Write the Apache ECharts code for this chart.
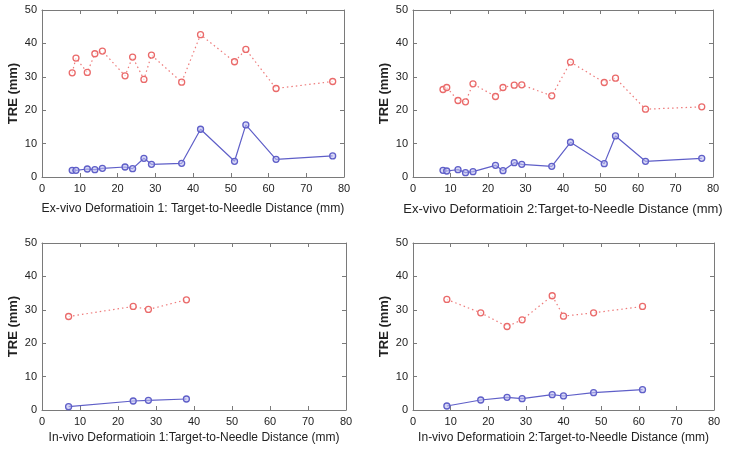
<!DOCTYPE html>
<html>
<head>
<meta charset="utf-8">
<script src="https://cdn.jsdelivr.net/npm/echarts@6/dist/echarts.min.js"></script>
<style>html,body{margin:0;padding:0;background:#fff}#c{width:729px;height:450px}</style>
</head>
<body>
<div id="c"></div>
<script>
// ---- data ----
var xTicks = [0, 10, 20, 30, 40, 50, 60, 70, 80];
var yTicks = [0, 10, 20, 30, 40, 50];

var ex1X = [8, 9, 12, 14, 16, 22, 24, 27, 29, 37, 42, 51, 54, 62, 77];
var ex1Red = [31.2, 35.6, 31.3, 36.9, 37.7, 30.3, 35.9, 29.2, 36.5, 28.4, 42.6, 34.5, 38.2, 26.5, 28.6];
var ex1Blue = [2.0, 2.0, 2.4, 2.2, 2.6, 3.0, 2.5, 5.6, 3.8, 4.1, 14.3, 4.7, 15.6, 5.3, 6.3];

var ex2X = [8, 9, 12, 14, 16, 22, 24, 27, 29, 37, 42, 51, 54, 62, 77];
var ex2Red = [26.2, 26.8, 22.9, 22.5, 27.9, 24.1, 26.8, 27.5, 27.6, 24.3, 34.4, 28.3, 29.6, 20.3, 21.0];
var ex2Blue = [2.0, 1.8, 2.2, 1.3, 1.6, 3.5, 1.9, 4.3, 3.8, 3.2, 10.4, 4.0, 12.3, 4.7, 5.6];

var in1X = [7, 24, 28, 38];
var in1Red = [28.0, 31.0, 30.1, 33.0];
var in1Blue = [1.0, 2.7, 2.9, 3.3];

var in2X = [9, 18, 25, 29, 37, 40, 48, 61];
var in2Red = [33.1, 29.1, 25.0, 27.0, 34.2, 28.1, 29.1, 31.0];
var in2Blue = [1.2, 3.0, 3.8, 3.4, 4.6, 4.2, 5.2, 6.1];

var panelTitles = [
  'Ex-vivo Deformatioin 1: Target-to-Needle Distance (mm)',
  'Ex-vivo Deformatioin 2:Target-to-Needle Distance (mm)',
  'In-vivo Deformatioin 1:Target-to-Needle Distance (mm)',
  'In-vivo Deformatioin 2:Target-to-Needle Distance (mm)'
];
var yName = 'TRE (mm)';

// ---- chart ----
var panels = [
  {x: ex1X, r: ex1Red, b: ex1Blue},
  {x: ex2X, r: ex2Red, b: ex2Blue},
  {x: in1X, r: in1Red, b: in1Blue},
  {x: in2X, r: in2Red, b: in2Blue}
];
var grids = [
  {left: 42, top: 10, width: 302, height: 167, nameGap: 26, nameSize: 12.2},
  {left: 413, top: 10, width: 300, height: 167, nameGap: 26, nameSize: 13},
  {left: 42, top: 243, width: 304, height: 167, nameGap: 22, nameSize: 12},
  {left: 413, top: 243, width: 301, height: 167, nameGap: 22, nameSize: 12}
];
var FONT = 'Liberation Sans, Arial, sans-serif';
var axisCol = '#7a7a7a';
var xMin = xTicks[0], xMax = xTicks[xTicks.length - 1], xInt = xTicks[1] - xTicks[0];
var yMin = yTicks[0], yMax = yTicks[yTicks.length - 1], yInt = yTicks[1] - yTicks[0];

var option = {animation: false, backgroundColor: '#fff', grid: [], xAxis: [], yAxis: [], series: []};
grids.forEach(function (g, i) {
  option.grid.push({left: g.left, top: g.top, width: g.width, height: g.height, show: false});
  var common = {
    gridIndex: i, type: 'value', splitLine: {show: false},
    axisLine: {show: true, onZero: false, lineStyle: {color: axisCol, width: 1}},
    axisTick: {show: true, inside: true, length: 4, lineStyle: {color: axisCol}}
  };
  option.xAxis.push(Object.assign({}, common, {
    position: 'bottom', min: xMin, max: xMax, interval: xInt,
    name: panelTitles[i], nameLocation: 'middle', nameGap: g.nameGap,
    nameTextStyle: {color: '#222', fontSize: g.nameSize, fontFamily: FONT},
    axisLabel: {color: '#222', fontSize: 11, margin: 6, fontFamily: FONT}
  }));
  option.xAxis.push(Object.assign({}, common, {
    position: 'top', min: xMin, max: xMax, interval: xInt, axisLabel: {show: false}
  }));
  option.yAxis.push(Object.assign({}, common, {
    position: 'left', min: yMin, max: yMax, interval: yInt,
    name: yName, nameLocation: 'middle', nameGap: 22,
    nameTextStyle: {color: '#222', fontSize: 13, fontWeight: 'bold', fontFamily: FONT},
    axisLabel: {color: '#222', fontSize: 11, margin: 5, fontFamily: FONT}
  }));
  option.yAxis.push(Object.assign({}, common, {
    position: 'right', min: yMin, max: yMax, interval: yInt, axisLabel: {show: false}
  }));
  var p = panels[i];
  var red = p.x.map(function (v, k) { return [v, p.r[k]]; });
  var blue = p.x.map(function (v, k) { return [v, p.b[k]]; });
  option.series.push({
    type: 'line', xAxisIndex: 2 * i, yAxisIndex: 2 * i, data: red,
    symbol: 'circle', symbolSize: 6,
    lineStyle: {color: '#ee7b7b', width: 1.2, type: [1.5, 3]},
    itemStyle: {color: 'rgba(255,255,255,0.6)', borderColor: '#ea6a6a', borderWidth: 1.3}
  });
  option.series.push({
    type: 'line', xAxisIndex: 2 * i, yAxisIndex: 2 * i, data: blue,
    symbol: 'circle', symbolSize: 6,
    lineStyle: {color: '#5f5fc8', width: 1.2},
    itemStyle: {color: 'rgba(190,190,240,0.6)', borderColor: '#5f5fc8', borderWidth: 1.3}
  });
});
var chart = echarts.init(document.getElementById('c'));
chart.setOption(option);
</script>
</body>
</html>
